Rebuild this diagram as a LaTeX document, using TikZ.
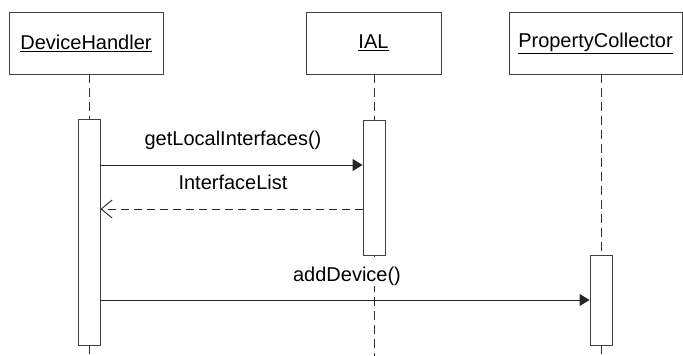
\documentclass[tikz,border=0pt]{standalone}
\usepackage{fontspec}
\setmainfont{Liberation Sans}
\usetikzlibrary{arrows.meta}
\begin{document}
\begin{tikzpicture}[x=1pt,y=-1pt,
  every node/.style={font=\fontsize{20}{24}\selectfont},
  objbox/.style={draw=black!75, line width=0.9pt, fill=white, minimum height=62pt, inner sep=0pt},
  actbox/.style={draw=black!75, line width=0.9pt, fill=white, minimum width=22pt, inner sep=0pt},
  lifeline/.style={draw=black!80, line width=0.9pt, dash pattern=on 9pt off 5pt},
  callmsg/.style={draw=black!85, line width=0.9pt, -{Triangle[length=10pt,width=12pt]}},
  retmsg/.style={draw=black!85, line width=0.9pt, dash pattern=on 8pt off 5pt, -{Straight Barb[length=11pt,width=18pt,line width=0.9pt]}},
  msglbl/.style={anchor=base, fill=white, inner xsep=2pt, inner ysep=0pt, text height=24pt, text depth=5pt}
]
\useasboundingbox (0,0) rectangle (683,356);

% objects
\node[objbox, minimum width=154pt] (dh) at (86,43) {\underline{DeviceHandler}};
\node[objbox, minimum width=135pt] (ial) at (373.5,43) {\underline{IAL}};
\node[objbox, minimum width=173pt] (pc) at (595.5,43) {\underline{PropertyCollector}};

% lifeline ends
\coordinate (dhend) at (89,356);
\coordinate (ialend) at (374,356);
\coordinate (pcend) at (601,356);

% activations (placed to compute lifelines)
\path (89,232) node[actbox, minimum height=226pt, draw=none, fill=none] (dha0) {};
\path (374,187.5) node[actbox, minimum height=135pt, draw=none, fill=none] (iala0) {};
\path (601,300) node[actbox, minimum height=90pt, draw=none, fill=none] (pca0) {};

% lifelines
\draw[lifeline] (dha0.north |- dh.south) -- (dha0.north);
\draw[lifeline] (dha0.south) -- (dhend);
\draw[lifeline] (iala0.north |- ial.south) -- (iala0.north);
\draw[lifeline] (iala0.south) -- (ialend);
\draw[lifeline] (pca0.north |- pc.south) -- (pca0.north);
\draw[lifeline] (pca0.south) -- (pcend);

% activation boxes
\node[actbox, minimum height=226pt] (dha) at (89,232) {};
\node[actbox, minimum height=135pt] (iala) at (374,187.5) {};
\node[actbox, minimum height=90pt] (pca) at (601,300) {};

% message rows
\coordinate (r1) at (0,165);
\coordinate (r2) at (0,209);
\coordinate (r3) at (0,300);

% labels
\node[msglbl] (l1) at (233,145) {getLocalInterfaces()};
\node[msglbl] (l2) at (233,189) {InterfaceList};
\node[msglbl] (l3) at (347,281) {addDevice()};

% messages
\draw[callmsg] (dha.east |- r1) -- (iala.west |- r1);
\draw[retmsg] (iala.west |- r2) -- (dha.east |- r2);
\draw[callmsg] (dha.east |- r3) -- (pca.west |- r3);
\end{tikzpicture}
\end{document}
